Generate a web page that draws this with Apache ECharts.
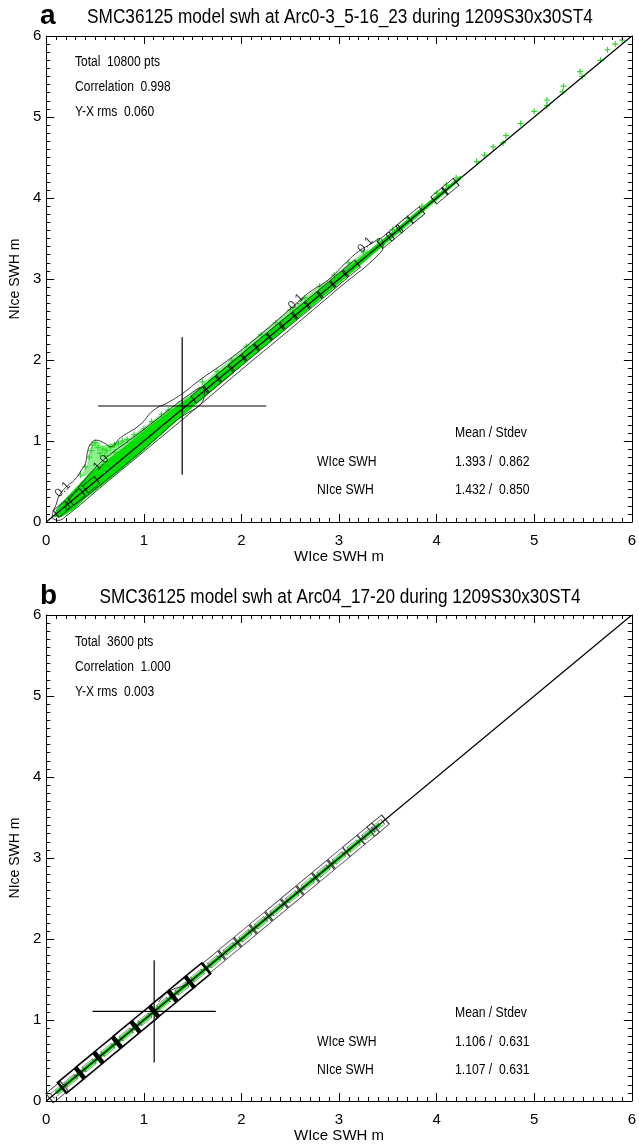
<!DOCTYPE html>
<html>
<head>
<meta charset="utf-8">
<script src="https://cdn.jsdelivr.net/npm/echarts@6/dist/echarts.min.js"></script>
<style>
html, body { margin: 0; padding: 0; background: #fff; }
#main { width: 639px; height: 1146px; }
</style>
</head>
<body>
<div id="main"></div>
<script>
// ---------------- panel a ----------------
var titleA = 'SMC36125 model swh at Arc0-3_5-16_23 during 1209S30x30ST4';
var statsA = ['Total  10800 pts', 'Correlation  0.998', 'Y-X rms  0.060'];
var meanStdA = ['1.393 /  0.862', '1.432 /  0.850'];
var meanA = [1.393, 1.432];   // x mean, y mean
var stdevA = [0.862, 0.850];  // x stdev, y stdev

// dense green core of the scatter
var coreA = [[0.08,0.06],[0.1,0.15],[0.15,0.23],[0.3,0.42],[0.46,0.62],[0.64,0.78],[0.8,0.93],[0.96,1.09],
  [1.13,1.25],[1.3,1.4],[1.5,1.57],[1.7,1.78],[2.0,2.08],[2.4,2.48],[2.8,2.87],[3.2,3.25],[3.6,3.64],[4.0,4.04],[4.25,4.28],
  [4.25,4.23],[4.0,3.97],[3.6,3.56],[3.2,3.15],[2.8,2.74],[2.4,2.33],[2.0,1.93],[1.6,1.52],[1.37,1.28],[1.2,1.1],
  [0.96,0.84],[0.76,0.64],[0.56,0.44],[0.4,0.29],[0.29,0.16],[0.15,0.06]];
// thinner scattered part above the core
var fringeA = [[0.35,0.55],[0.42,0.72],[0.44,0.86],[0.47,0.97],[0.52,1.0],[0.58,0.94],[0.7,0.98],[0.85,1.04],[1.0,1.17],
  [1.15,1.31],[1.3,1.43],[1.5,1.6],[1.8,1.92],[2.2,2.33],[2.6,2.73],[3.0,3.1],[3.3,3.38],[3.3,3.3],[2.6,2.62],[2.0,2.05],
  [1.5,1.55],[1.3,1.38],[0.96,1.06],[0.64,0.76],[0.46,0.6]];
// single points drawn as +
var crossA = [[0.44,0.80],[0.46,0.88],[0.47,0.95],[0.5,0.98],[0.53,0.92],[0.55,0.85],[0.58,0.90],[0.62,0.88],[0.66,0.92],
  [0.7,0.95],[0.74,0.97],[0.78,1.0],[0.83,1.02],[0.6,0.82],[0.7,0.86],[0.9,1.08],[1.0,1.15],[1.08,1.24],[1.18,1.33],
  [1.25,1.38],[0.4,0.68],[0.35,0.58],
  [1.6,1.73],[1.75,1.86],[1.9,2.0],[2.05,2.17],[2.2,2.31],[2.35,2.46],[2.5,2.62],[2.65,2.77],[2.8,2.91],[2.95,3.05],
  [3.1,3.2],[3.25,3.33],[3.4,3.47],[3.55,3.61],[3.7,3.75],[3.85,3.9],[4.0,4.06],[4.1,4.16],[4.2,4.25],
  [4.41,4.45],[4.49,4.53],[4.58,4.63],[4.68,4.68],[4.71,4.77],[4.86,4.92],[5.0,5.07],[5.13,5.21],[5.13,5.14],
  [5.30,5.38],[5.29,5.31],[5.47,5.56],[5.49,5.50],[5.68,5.70],[5.75,5.83],[5.83,5.9],[5.9,5.95]];
// density contours
var contour01A = [[0.06,0.05],[0.07,0.13],[0.1,0.21],[0.135,0.33],[0.22,0.45],[0.29,0.52],[0.36,0.64],[0.4,0.72],
  [0.43,0.9],[0.46,0.97],[0.51,1.01],[0.6,0.97],[0.66,0.93],[0.76,1.04],[0.96,1.2],[1.1,1.38],[1.24,1.47],[1.4,1.59],
  [1.57,1.75],[1.91,2.04],[2.25,2.37],[2.49,2.62],[2.69,2.83],[2.89,2.99],[3.06,3.19],[3.2,3.34],[3.35,3.45],[3.42,3.5],
  [3.45,3.42],[3.42,3.32],[3.0,2.89],[2.5,2.38],[2.0,1.88],[1.5,1.37],[1.0,0.87],[0.5,0.37],[0.2,0.07],[0.12,0.02],[0.06,0.05]];
var contour10A = [[0.2,0.22],[0.3,0.38],[0.45,0.6],[0.62,0.8],[0.9,1.05],[1.2,1.33],[1.45,1.56],[1.6,1.66],
  [1.62,1.58],[1.3,1.22],[1.0,0.9],[0.6,0.5],[0.3,0.22],[0.2,0.15],[0.2,0.22]];
var contourLabelA = [[0.17,0.40,'0.1'],[0.56,0.73,'1.0'],[2.56,2.72,'0.1'],[3.27,3.42,'0.1']];
// cell boxes along the diagonal
var boxA = [0.16,0.31,0.46,1.57,1.7,1.83,1.96,2.09,2.22,2.35,2.48,2.61,2.74,2.87,3.0,3.13,3.48,3.57,3.67,3.79,4.03,4.14];

// ---------------- panel b ----------------
var titleB = 'SMC36125 model swh at Arc04_17-20 during 1209S30x30ST4';
var statsB = ['Total  3600 pts', 'Correlation  1.000', 'Y-X rms  0.003'];
var meanStdB = ['1.106 /  0.631', '1.107 /  0.631'];
var meanB = [1.106, 1.107];
var stdevB = [0.631, 0.631];
var greenB = [[0.1,0.1],[3.42,3.42]];
var boxBThick = [0.25,0.44,0.63,0.82,1.01,1.2,1.39,1.55];
var boxBThin = [0.11,1.72,1.88,2.04,2.2,2.36,2.52,2.68,2.84,3.0,3.15,3.3,3.4];
var contourB = [[1.15,1.22],[1.22,1.32],[1.3,1.38],[1.4,1.42],[1.5,1.5]];

var diagLine = [[0,0],[6,6]];
var ticks = [0,1,2,3,4,5,6];

var FONT = '"Liberation Sans", Arial, sans-serif';
var GREEN = '#00e000';
var ROT = 39.4; // screen angle of the 1:1 line

function axisBase(gi) {
	return {
		type: 'value', gridIndex: gi, min: ticks[0], max: ticks[ticks.length - 1], interval: 1, z: 20,
		axisLine: { show: true, onZero: false, lineStyle: { color: '#000', width: 1 } },
		axisTick: { show: true, inside: true, length: 8, lineStyle: { color: '#000', width: 1 } },
		minorTick: { show: true, splitNumber: 10, length: 4, lineStyle: { color: '#000', width: 1 } },
		splitLine: { show: false },
		minorSplitLine: { show: false }
	};
}
function xAxes(gi) {
	var bottom = Object.assign(axisBase(gi), {
		position: 'bottom',
		axisLabel: { show: true, color: '#000', fontSize: 15, fontFamily: FONT, margin: 11 },
		name: 'WIce SWH m', nameLocation: 'middle', nameGap: 23,
		nameTextStyle: { color: '#000', fontSize: 15, fontFamily: FONT }
	});
	var top = Object.assign(axisBase(gi), { position: 'top', axisLabel: { show: false } });
	return [bottom, top];
}
function yAxes(gi) {
	var left = Object.assign(axisBase(gi), {
		position: 'left',
		axisLabel: { show: true, color: '#000', fontSize: 15, fontFamily: FONT, margin: 5 },
		name: 'NIce SWH m', nameLocation: 'middle', nameGap: 24,
		nameTextStyle: { color: '#000', fontSize: 14, fontFamily: FONT }
	});
	var right = Object.assign(axisBase(gi), { position: 'right', axisLabel: { show: false } });
	return [left, right];
}

function polySeries(pts, ax, color, opacity, z) {
	return {
		type: 'custom', xAxisIndex: ax, yAxisIndex: ax, z: z, silent: true,
		data: [[0, 0]],
		renderItem: function (params, api) {
			return {
				type: 'polygon',
				shape: { points: pts.map(function (p) { return api.coord(p); }) },
				style: { fill: color, opacity: opacity }
			};
		}
	};
}
function lineSeries(pts, ax, color, width, z, smooth) {
	return {
		type: 'line', xAxisIndex: ax, yAxisIndex: ax, data: pts, symbol: 'none', showSymbol: false,
		smooth: !!smooth, lineStyle: { color: color, width: width }, z: z, silent: true
	};
}
function boxSeries(centres, ax, size, color, width, z) {
	return {
		type: 'scatter', xAxisIndex: ax, yAxisIndex: ax, z: z, silent: true,
		data: centres.map(function (c) { return [c, c]; }),
		symbol: 'rect', symbolSize: size, symbolRotate: ROT,
		itemStyle: { color: 'rgba(0,0,0,0)', borderColor: color, borderWidth: width, opacity: 1 }
	};
}
function crossHair(mean, sd, ax) {
	return [
		lineSeries([[mean[0] - sd[0], mean[1]], [mean[0] + sd[0], mean[1]]], ax, '#000', 1.2, 8),
		lineSeries([[mean[0], mean[1] - sd[1]], [mean[0], mean[1] + sd[1]]], ax, '#000', 1.2, 8)
	];
}

var series = [];
// panel a
series.push(polySeries(fringeA, 0, GREEN, 0.45, 2));
series.push(polySeries(coreA, 0, GREEN, 1, 2));
series.push({
	type: 'scatter', xAxisIndex: 0, yAxisIndex: 0, z: 3, silent: true, data: crossA,
	symbol: 'path://M4,0H6V4H10V6H6V10H4V6H0V4H4Z', symbolSize: 6,
	itemStyle: { color: '#2fd82f', opacity: 1 }
});
series.push(lineSeries(contour01A, 0, '#222', 0.9, 4, true));
series.push(lineSeries(contour10A, 0, '#222', 0.9, 4, true));
series.push({
	type: 'scatter', xAxisIndex: 0, yAxisIndex: 0, z: 9, silent: true, data: contourLabelA,
	symbolSize: 0,
	label: {
		show: true, position: 'inside', rotate: ROT + 6, color: '#000', fontSize: 12, fontFamily: FONT,
		formatter: function (p) { return p.value[2]; }
	}
});
series.push(boxSeries(boxA, 0, [15, 9], '#222', 0.9, 5));
series.push(lineSeries(diagLine, 0, '#000', 1.2, 7));
series = series.concat(crossHair(meanA, stdevA, 0));
// panel b
series.push(lineSeries(greenB, 2, GREEN, 4, 2));
series.push(boxSeries(boxBThin, 2, [19, 12], '#444', 1, 5));
series.push(boxSeries(boxBThin, 2, [12, 6], '#666', 0.8, 5));
series.push(boxSeries(boxBThick, 2, [22, 14], '#000', 2, 6));
series.push(boxSeries(boxBThick, 2, [13, 6], '#666', 0.8, 6));
series.push(lineSeries(contourB, 2, '#222', 0.9, 4, true));
series.push(lineSeries(diagLine, 2, '#000', 1.2, 7));
series = series.concat(crossHair(meanB, stdevB, 2));

// narrow Helvetica look: Liberation Sans squeezed horizontally
function txt(x, y, s, size, weight, align, sx) {
	return {
		type: 'text', x: x, y: y, z: 100, silent: true, scaleX: sx || 1,
		style: {
			text: s, fill: '#000', fontSize: size, fontFamily: FONT,
			fontWeight: weight || 'normal', align: align || 'left', verticalAlign: 'middle'
		}
	};
}
function panelText(letter, title, stats, meanStd, y0) {
	// y0 = pixel row of the panel title
	return [
		txt(40, y0 - 1, letter, 28, 'bold'),
		txt(340, y0, title, 20, 'normal', 'center', 0.86),
		txt(75, y0 + 45, stats[0], 14, 'normal', 'left', 0.86),
		txt(75, y0 + 70, stats[1], 14, 'normal', 'left', 0.86),
		txt(75, y0 + 95, stats[2], 14, 'normal', 'left', 0.86),
		txt(455, y0 + 416, 'Mean / Stdev', 14, 'normal', 'left', 0.87),
		txt(317, y0 + 445, 'WIce SWH', 14, 'normal', 'left', 0.87),
		txt(455, y0 + 445, meanStd[0], 14, 'normal', 'left', 0.87),
		txt(317, y0 + 473, 'NIce SWH', 14, 'normal', 'left', 0.87),
		txt(455, y0 + 473, meanStd[1], 14, 'normal', 'left', 0.87)
	];
}

var myChart = echarts.init(document.getElementById('main'));
var option = {
	animation: false,
	grid: [
		{ left: 46, width: 591, top: 36, height: 486 },
		{ left: 46, width: 591, top: 615, height: 486 }
	],
	xAxis: xAxes(0).concat(xAxes(1)),
	yAxis: yAxes(0).concat(yAxes(1)),
	series: series,
	graphic: panelText('a', titleA, statsA, meanStdA, 17).concat(panelText('b', titleB, statsB, meanStdB, 597))
};
myChart.setOption(option);
</script>
</body>
</html>
